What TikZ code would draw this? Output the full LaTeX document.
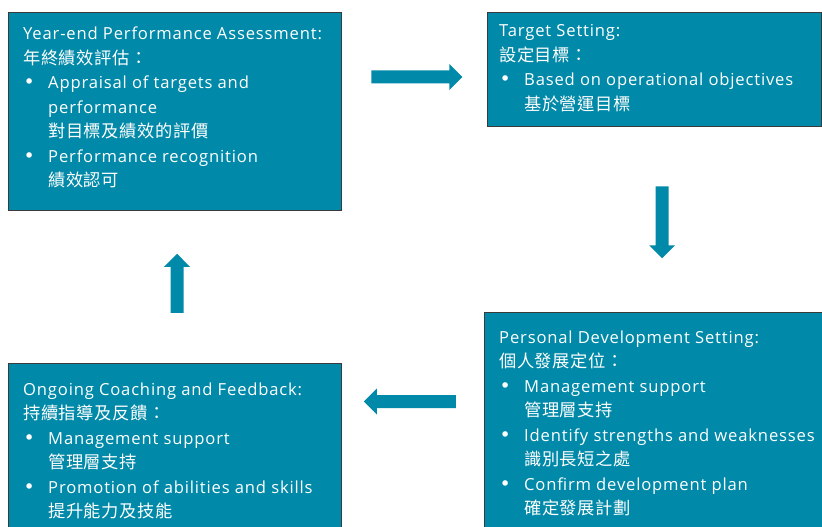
\documentclass[tikz,border=0pt]{standalone}
\usepackage{fontspec}
\setmainfont{Open Sans}[LetterSpace=5]
\newfontfamily\cjk{Noto Sans CJK TC}[Scale=1.04,LetterSpace=3.5]
\newfontfamily\dvs{DejaVu Sans}
\usetikzlibrary{shapes.arrows}
\definecolor{tealfill}{HTML}{0089A8}
\definecolor{boxedge}{HTML}{3A3A3A}
\tikzset{
  box/.style={draw=boxedge, line width=0.9pt, fill=tealfill, anchor=north west, inner sep=0pt},
  boxtext/.style={anchor=base west, inner sep=0pt, text=white,
    font=\fontsize{16.6}{24.5}\selectfont},
  blockarrow/.style={single arrow, fill=tealfill, draw=none, inner sep=6.3pt,
    single arrow head extend=6.5pt, single arrow tip angle=90, anchor=center}
}
\newcommand{\bul}{\makebox[25pt][l]{\hspace*{0.5pt}{\dvs\fontsize{19}{19}\selectfont •}}}
\newcommand{\ind}{\hspace*{25pt}}
\newenvironment{lines}{\begin{tabular}[t]{@{}l@{}}}{\end{tabular}}
\begin{document}
\begin{tikzpicture}[x=1pt,y=-1pt]
\useasboundingbox (0,0) rectangle (822,527);
\fill[white] (0,0) rectangle (822,527);
\clip (0,0) rectangle (822,527);
% boxes
\node[box, minimum width=333pt, minimum height=198pt] (b1) at (8,12) {};
\node[box, minimum width=334pt, minimum height=114pt] (b2) at (487,12) {};
\node[box, minimum width=340pt, minimum height=230pt] (b3) at (484,312) {};
\node[box, minimum width=333pt, minimum height=180pt] (b4) at (8,363) {};
% texts
\node[boxtext] (t1) at (23,40) {\begin{lines}Year-end Performance Assessment:\\
{\cjk 年終績效評估：}\\
\bul Appraisal of targets and\\
\ind performance\\
\ind{\cjk 對目標及績效的評價}\\
\bul Performance recognition\\
\ind{\cjk 績效認可}\end{lines}};
\node[boxtext] (t2) at (499,37) {\begin{lines}Target Setting:\\
{\cjk 設定目標：}\\
\bul Based on operational objectives\\
\ind{\cjk 基於營運目標}\end{lines}};
\node[boxtext] (t3) at (499,343) {\begin{lines}Personal Development Setting:\\
{\cjk 個人發展定位：}\\
\bul Management support\\
\ind{\cjk 管理層支持}\\
\bul Identify strengths and weaknesses\\
\ind{\cjk 識別長短之處}\\
\bul Confirm development plan\\
\ind{\cjk 確定發展計劃}\end{lines}};
\node[boxtext] (t4) at (23,395) {\begin{lines}Ongoing Coaching and Feedback:\\
{\cjk 持續指導及反饋：}\\
\bul Management support\\
\ind{\cjk 管理層支持}\\
\bul Promotion of abilities and skills\\
\ind{\cjk 提升能力及技能}\end{lines}};
% arrows
\node[blockarrow, minimum height=91pt, shape border rotate=0] (a1) at (413.5,77) {};
\node[blockarrow, minimum height=72pt, shape border rotate=270] (a2) at (662,219) {};
\node[blockarrow, minimum height=92pt, shape border rotate=180] (a3) at (413,401.5) {};
\node[blockarrow, minimum height=59pt, shape border rotate=90] (a4) at (177,286.5) {};
\end{tikzpicture}
\end{document}
